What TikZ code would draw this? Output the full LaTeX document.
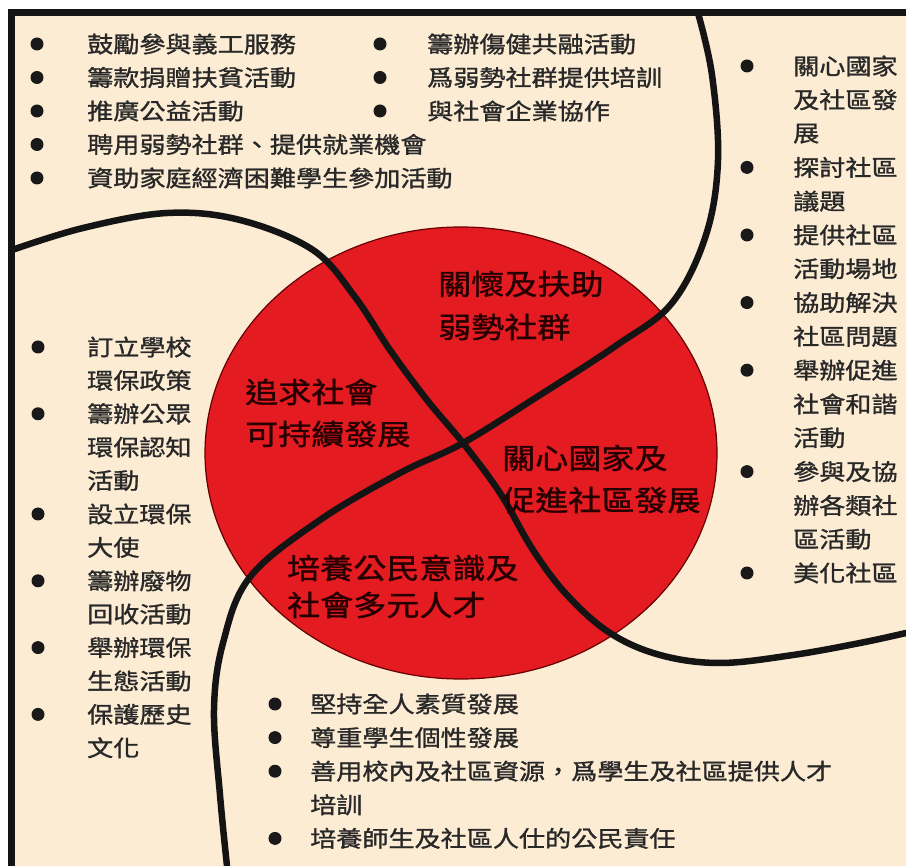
\documentclass[tikz,border=0pt]{standalone}
\usepackage{fontspec}
\newfontfamily\cjk[FakeStretch=1.16,FakeBold=1.2]{Noto Sans CJK TC}
\definecolor{cream}{RGB}{252,236,212}
\definecolor{discred}{RGB}{228,27,32}
\definecolor{txt}{RGB}{40,40,40}
\begin{document}
\begin{tikzpicture}[x=1pt,y=-1pt,
  item/.style={anchor=west,inner sep=0pt,font=\cjk\fontsize{22.5}{22.5}\selectfont,text=txt},
  lab/.style={anchor=west,inner sep=0pt,font=\cjk\fontsize{28.5}{28.5}\selectfont,text=black!85!red},
  dot/.style={circle,fill=black!90,inner sep=0pt,minimum size=13pt},
  curve/.style={line width=6.5pt,black!92,line cap=round},
  frame/.style={line width=6.5pt,black!92}
]
\useasboundingbox (0,0) rectangle (906,866);
\fill[white] (0,0) rectangle (906,866);
\fill[cream] (11,12) rectangle (906,866);
% disc
\fill[discred,draw=black!60!red,line width=1.2pt] (461,453) ellipse [x radius=256,y radius=226];
% curves
\draw[curve] plot[smooth,tension=0.6] coordinates {(698,13) (712,75) (718,160) (706,235) (672,303) (617,345) (540,395) (463,443) (400,473) (320,520) (250,577) (223,643) (214,710) (220,795) (227,866)};
\draw[curve] plot[smooth,tension=0.6] coordinates {(12,250) (83,228) (167,213) (240,220) (313,250) (355,297) (390,350) (427,400) (463,443) (500,493) (533,550) (567,595) (610,633) (660,655) (720,663) (793,655) (860,643) (906,633)};
% frame
\draw[frame] (11.5,866) -- (11.5,12.5) -- (906,12.5);
% top-left list
\foreach \t [count=\i from 0] in {鼓勵參與義工服務,籌款捐贈扶貧活動,推廣公益活動,聘用弱勢社群、提供就業機會,資助家庭經濟困難學生參加活動}{
  \node[dot] (ad\i) at (37,{44+33.5*\i}) {};
  \node[item] (a\i) at (87,{44+33.5*\i}) {\t};
}
% top-middle list
\foreach \t [count=\i from 0] in {籌辦傷健共融活動,爲弱勢社群提供培訓,與社會企業協作}{
  \node[dot] (bd\i) at (380,{44+33.5*\i}) {};
  \node[item] (b\i) at (427,{44+33.5*\i}) {\t};
}
% right list
\foreach \t [count=\i from 0] in {關心國家,及社區發,展,探討社區,議題,提供社區,活動場地,協助解決,社區問題,舉辦促進,社會和諧,活動,參與及協,辦各類社,區活動,美化社區}{
  \node[item] (c\i) at (793,{66+33.8*\i}) {\t};
}
\foreach \i in {0,3,5,7,9,12,15}{
  \node[dot] (cd\i) at (747,{66+33.8*\i}) {};
}
% left list
\foreach \t [count=\i from 0] in {訂立學校,環保政策,籌辦公眾,環保認知,活動,設立環保,大使,籌辦廢物,回收活動,舉辦環保,生態活動,保護歷史,文化}{
  \node[item] (d\i) at (87,{347+33.4*\i}) {\t};
}
\foreach \i in {0,2,5,7,9,11}{
  \node[dot] (dd\i) at (38,{347+33.4*\i}) {};
}
% bottom list
\foreach \t [count=\i from 0] in {堅持全人素質發展,尊重學生個性發展,善用校內及社區資源，爲學生及社區提供人才,培訓,培養師生及社區人仕的公民責任}{
  \node[item] (e\i) at (310,{704+33.6*\i}) {\t};
}
\foreach \i in {0,1,2,4}{
  \node[dot] (ed\i) at (275,{704+33.6*\i}) {};
}
% disc labels
\node[lab] (l1a) at (438,284) {關懷及扶助};
\node[lab] (l1b) at (438,327) {弱勢社群};
\node[lab] (l2a) at (245,392) {追求社會};
\node[lab] (l2b) at (245,434) {可持續發展};
\node[lab] (l3a) at (502,458) {關心國家及};
\node[lab] (l3b) at (502,500) {促進社區發展};
\node[lab] (l4a) at (287,568) {培養公民意識及};
\node[lab] (l4b) at (287,605) {社會多元人才};
\end{tikzpicture}
\end{document}
